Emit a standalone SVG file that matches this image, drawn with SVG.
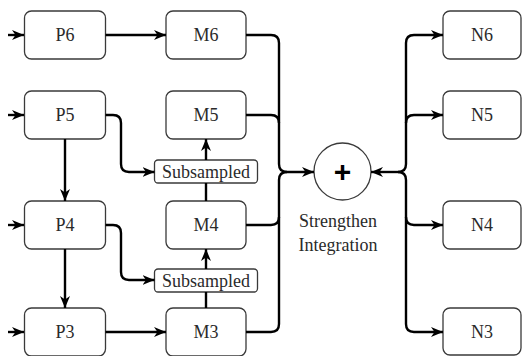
<svg xmlns="http://www.w3.org/2000/svg" width="522" height="356" viewBox="0 0 522 356">
  <style>
    .box { fill: #fff; stroke: #3a3a3a; stroke-width: 1.3; }
    .lbl { font-size: 18px; fill: #2a2a2a; text-anchor: middle; }
    .edge { fill: none; stroke: #000; stroke-width: 2.4; }
    .arr { marker-end: url(#head); }
  </style>
  <defs>
    <marker id="head" markerUnits="userSpaceOnUse" markerWidth="12" markerHeight="12" viewBox="0 0 12 11" refX="12" refY="5.5" orient="auto">
      <path d="M0,0.5 L12,5.5 L0,10.5 L3.5,5.5 Z" fill="#000"/>
    </marker>
  </defs>

  <g font-family="Liberation Serif, Times New Roman, DejaVu Serif, serif">
  <!-- pyramid features -->
  <g id="P6"><rect class="box" x="24.5" y="11" width="81" height="48" rx="7"/><text class="lbl" x="65" y="41">P6</text></g>
  <g id="P5"><rect class="box" x="24.5" y="91" width="81" height="48" rx="7"/><text class="lbl" x="65" y="121">P5</text></g>
  <g id="P4"><rect class="box" x="24.5" y="201" width="81" height="48" rx="7"/><text class="lbl" x="65" y="231">P4</text></g>
  <g id="P3"><rect class="box" x="24.5" y="308" width="81" height="48" rx="7"/><text class="lbl" x="65" y="338">P3</text></g>

  <!-- merged features -->
  <g id="M6"><rect class="box" x="166" y="11" width="80" height="48" rx="7"/><text class="lbl" x="206" y="41">M6</text></g>
  <g id="M5"><rect class="box" x="166" y="91" width="80" height="48" rx="7"/><text class="lbl" x="206" y="121">M5</text></g>
  <g id="M4"><rect class="box" x="166" y="201" width="80" height="48" rx="7"/><text class="lbl" x="206" y="231">M4</text></g>
  <g id="M3"><rect class="box" x="166" y="308" width="80" height="48" rx="7"/><text class="lbl" x="206" y="338">M3</text></g>

  <!-- subsampling blocks -->
  <g id="sub1"><rect class="box" x="154.5" y="160" width="103" height="23" rx="3.5"/><text class="lbl" x="206" y="178">Subsampled</text></g>
  <g id="sub2"><rect class="box" x="154.5" y="269" width="103" height="23" rx="3.5"/><text class="lbl" x="206" y="287">Subsampled</text></g>

  <!-- fusion node -->
  <g id="fuse">
    <circle cx="342.5" cy="171.5" r="28.5" fill="#fff" stroke="#3a3a3a" stroke-width="1.3"/>
    <text x="342.5" y="182" font-family="Liberation Sans, Arial, sans-serif" font-size="30" font-weight="bold" text-anchor="middle" fill="#000">+</text>
    <text class="lbl" x="338" y="227">Strengthen</text>
    <text class="lbl" x="338" y="251">Integration</text>
  </g>

  <!-- outputs -->
  <g id="N6"><rect class="box" x="443" y="11" width="78" height="48" rx="7"/><text class="lbl" x="482" y="41">N6</text></g>
  <g id="N5"><rect class="box" x="443" y="91" width="78" height="48" rx="7"/><text class="lbl" x="482" y="121">N5</text></g>
  <g id="N4"><rect class="box" x="443" y="201" width="78" height="48" rx="7"/><text class="lbl" x="482" y="231">N4</text></g>
  <g id="N3"><rect class="box" x="443" y="308" width="78" height="47" rx="7"/><text class="lbl" x="482" y="338">N3</text></g>
  </g>

  <g id="connectors">
    <!-- inputs -->
    <path class="edge arr" d="M8,35 H24"/>
    <path class="edge arr" d="M8,115 H24"/>
    <path class="edge arr" d="M8,225 H24"/>
    <path class="edge arr" d="M8,332 H24"/>
    <!-- P to M -->
    <path class="edge arr" d="M105.5,35 H166"/>
    <path class="edge arr" d="M105.5,332 H166"/>
    <!-- top-down -->
    <path class="edge arr" d="M65,139 V201"/>
    <path class="edge arr" d="M65,249 V308"/>
    <!-- to subsampling -->
    <path class="edge arr" d="M105.5,115 H113 Q121,115 121,123 V164 Q121,172 129,172 H154.5"/>
    <path class="edge arr" d="M105.5,225 H113 Q121,225 121,233 V272 Q121,280 129,280 H154.5"/>
    <!-- bottom-up -->
    <path class="edge arr" d="M206,160 V139"/>
    <path class="edge" d="M206,201 V183"/>
    <path class="edge arr" d="M206,269 V249"/>
    <path class="edge" d="M206,308 V292"/>
    <!-- into fusion -->
    <path class="edge arr" d="M246,35 H271 Q279,35 279,43 V164 Q279,172 287,172 H314"/>
    <path class="edge" d="M246,115 H271 Q279,115 279,123"/>
    <path class="edge" d="M246,225 H271 Q279,225 279,217"/>
    <path class="edge" d="M246,332 H271 Q279,332 279,324 V180 Q279,172 287,172"/>
    <!-- out of fusion -->
    <path class="edge arr" d="M398,172 H371"/>
    <path class="edge arr" d="M398,172 Q406,172 406,164 V43 Q406,35 414,35 H443"/>
    <path class="edge arr" d="M406,123 Q406,115 414,115 H443"/>
    <path class="edge arr" d="M406,217 Q406,225 414,225 H443"/>
    <path class="edge arr" d="M398,172 Q406,172 406,180 V324 Q406,332 414,332 H443"/>
  </g>
</svg>
